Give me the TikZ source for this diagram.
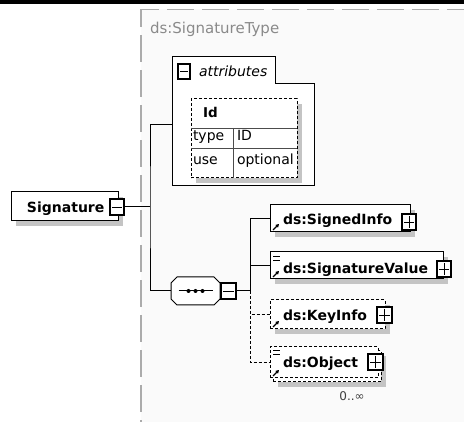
\documentclass[tikz,border=0pt]{standalone}
\usepackage{fontspec}
\setmainfont{DejaVu Sans}
\usetikzlibrary{shadows,calc,arrows.meta}
\definecolor{shgray}{HTML}{C4C4C4}
\definecolor{framegray}{HTML}{ABABAB}
\definecolor{bgray}{HTML}{FAFAFA}
\definecolor{txtgray}{HTML}{8A8A8A}
\begin{document}
\begin{tikzpicture}[x=1pt,y=-1pt,
  every node/.style={inner sep=0pt,outer sep=0pt},
  shad/.style={drop shadow={shadow xshift=5pt,shadow yshift=-5pt,fill=shgray,opacity=1}},
  elem/.style={draw=black,line width=1pt,fill=white,rectangle,anchor=north west},
  optelem/.style={elem,dash pattern=on 3pt off 2pt},
  btnbase/.style={draw=black,line width=1.1pt,fill=white,rectangle,anchor=north west,minimum width=14pt,minimum height=16pt},
  btnminus/.style={btnbase,path picture={\draw[line width=0.9pt] ($(path picture bounding box.west)+(2pt,0)$) -- ($(path picture bounding box.east)+(-2pt,0)$);}},
  btnplus/.style={btnbase,path picture={\draw[line width=0.9pt] ($(path picture bounding box.west)+(2pt,0)$) -- ($(path picture bounding box.east)+(-2pt,0)$) ($(path picture bounding box.north)+(0,-2pt)$) -- ($(path picture bounding box.south)+(0,2pt)$);}},
  bname/.style={anchor=base west,font=\bfseries\fontsize{14}{16}\selectfont},
  rname/.style={anchor=base west,font=\fontsize{14}{16}\selectfont},
  conn/.style={draw=black,line width=1pt},
  optconn/.style={conn,dash pattern=on 3pt off 2pt},
  refarrow/.style={line width=1.1pt,-{Triangle[length=3.2pt,width=3.6pt]}},
  simple/.style={line width=1pt}
]
\useasboundingbox (0,0) rectangle (464,422);
% background and frame
\fill[bgray] (141,9.5) rectangle (464,422);
\fill[black] (0,0) rectangle (464,4);
\draw[framegray,line width=1.3pt,dash pattern=on 27pt off 8pt,dash phase=9pt] (141,9.5) -- (480,9.5);
\draw[framegray,line width=1.3pt,dash pattern=on 27pt off 8pt,dash phase=9pt] (141,9.5) -- (141,440);
\node[anchor=base west,text=txtgray,font=\fontsize{15}{18}\selectfont] (title) at (150,34) {ds:SignatureType};

% Signature element
\node[elem,shad,minimum width=107pt,minimum height=29pt] (sig) at (11,192) {};
\node[bname] (sigt) at (27,213) {Signature};
\node[btnminus] (sigbtn) at (110,199) {};

% attributes box
\draw[fill=white,line width=1pt] (172,57) -- (275,57) -- (275,84) -- (314,84) -- (314,186) -- (172,186) -- cycle;
\coordinate (attrW) at (172,125);
\node[btnminus,line width=1.5pt,minimum width=12pt,minimum height=15pt] (attrbtn) at (178,64) {};
\node[anchor=base west,font=\itshape\fontsize{14}{16}\selectfont] (attrt) at (199,77) {attributes};
\node[optelem,shad,minimum width=106pt,minimum height=79pt] (tbl) at (191,99) {};
\draw[gray!60!black,line width=0.8pt] ($(tbl.north west)+(0,29)$) -- ($(tbl.north east)+(0,29)$);
\draw[gray!60!black,line width=0.8pt] ($(tbl.north west)+(0,49)$) -- ($(tbl.north east)+(0,49)$);
\draw[gray!60!black,line width=0.8pt] ($(tbl.north west)+(42,29)$) -- ($(tbl.south west)+(42,0)$);
\node[bname,font=\bfseries\fontsize{13.5}{16}\selectfont] (idt) at (203,118) {Id};
\node[rname] (typet) at (193,141) {type};
\node[rname] (typev) at (237,141) {ID};
\node[rname] (uset) at (193,165) {use};
\node[rname] (usev) at (237,165) {optional};

% sequence (chamfered box)
\node[minimum width=49pt,minimum height=28pt,anchor=north west] (seq) at (171,277) {};
\fill[shgray,shift={(5,5)}] ($(seq.north west)+(6,0)$) -- ($(seq.north east)+(-6,0)$) -- ($(seq.north east)+(0,6)$) -- ($(seq.south east)+(0,-6)$) -- ($(seq.south east)+(-6,0)$) -- ($(seq.south west)+(6,0)$) -- ($(seq.south west)+(0,-6)$) -- ($(seq.north west)+(0,6)$) -- cycle;
\draw[fill=white,line width=1pt] ($(seq.north west)+(6,0)$) -- ($(seq.north east)+(-6,0)$) -- ($(seq.north east)+(0,6)$) -- ($(seq.south east)+(0,-6)$) -- ($(seq.south east)+(-6,0)$) -- ($(seq.south west)+(6,0)$) -- ($(seq.south west)+(0,-6)$) -- ($(seq.north west)+(0,6)$) -- cycle;
\draw[line width=1pt] ($(seq.center)+(-17,0)$) -- ($(seq.center)+(17,0)$);
\foreach \d in {-7,0,7} \fill ($(seq.center)+(\d,0)$) circle (2pt);
\node[btnminus,minimum width=15pt] (seqbtn) at (221,283) {};

% children
\node[elem,shad,minimum width=140pt,minimum height=27pt] (si) at (270,205) {};
\node[bname] (sit) at (283,225) {ds:SignedInfo};
\node[btnplus] (sibtn) at (402,214) {};
\draw[refarrow] ($(si.south west)+(3,-2)$) -- ++(6,-6);

\node[elem,shad,minimum width=173pt,minimum height=27pt] (sv) at (270,252) {};
\node[bname] (svt) at (283,273.5) {ds:SignatureValue};
\node[btnplus] (svbtn) at (437,261) {};
\draw[refarrow] ($(sv.south west)+(3,-2)$) -- ++(6,-6);
\draw[simple] ($(sv.north west)+(3,5)$) -- ++(7,0) ($(sv.north west)+(3,9)$) -- ++(7,0);

\node[optelem,shad,minimum width=115pt,minimum height=29pt] (ki) at (270,300) {};
\node[bname] (kit) at (283,321) {ds:KeyInfo};
\node[btnplus,minimum width=15pt] (kibtn) at (377,307) {};
\draw[refarrow] ($(ki.south west)+(3,-2)$) -- ++(6,-6);

\node[optelem,shad,minimum width=108pt,minimum height=31pt] (ob2) at (273,351) {};
\node[optelem,minimum width=108pt,minimum height=31pt] (ob) at (270,347) {};
\node[bname] (obt) at (283,368) {ds:Object};
\node[btnplus,minimum width=15pt] (obbtn) at (368,354) {};
\draw[refarrow] ($(ob.south west)+(3,-2)$) -- ++(6,-6);
\draw[simple] ($(ob.north west)+(3,4)$) -- ++(7,0) ($(ob.north west)+(3,8)$) -- ++(7,0);
\node[anchor=base,text=black!75,font=\fontsize{12}{14}\selectfont] (occ) at (352,401) {0..∞};

% connectors
\coordinate (trunk) at (150,207);
\coordinate (cj) at (250,291);
\draw[conn] (sigbtn.east) -- (trunk);
\draw[conn] (attrW) -| (trunk) |- (seq.west);
\draw[conn] (seqbtn.east) -- (cj);
\draw[conn] (cj) |- (si.west);
\draw[conn] (cj) |- (sv.west);
\draw[optconn] (cj) |- (ki.west);
\draw[optconn] (cj) |- (ob.west);
\end{tikzpicture}
\end{document}
